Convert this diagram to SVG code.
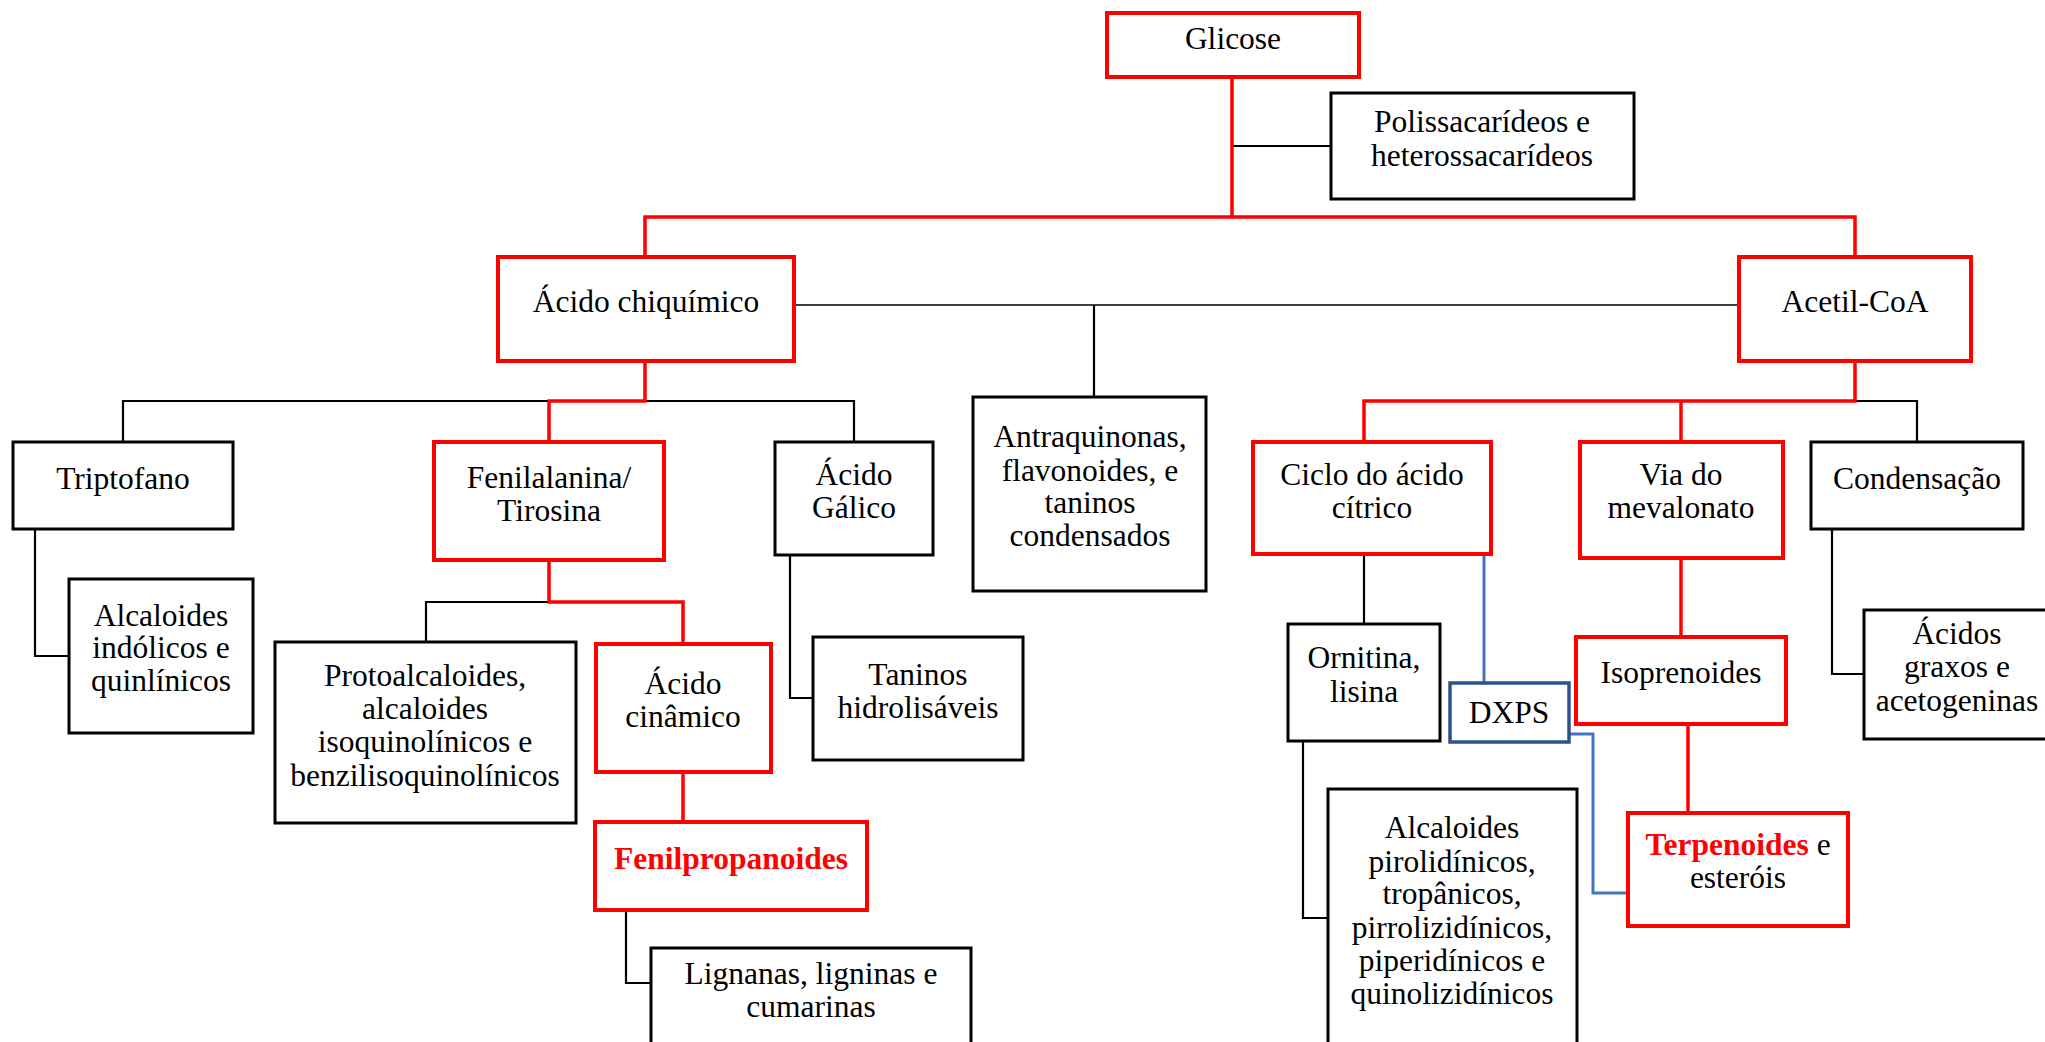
<svg xmlns="http://www.w3.org/2000/svg" width="2045" height="1042" viewBox="0 0 2045 1042">
<style>
text{font-family:"Liberation Serif","Times New Roman",serif;font-size:31.5px;fill:#000;text-anchor:middle}
.r rect{fill:#fff;stroke:#ff0000;stroke-width:4}
.k rect{fill:#fff;stroke:#000;stroke-width:3}
.b rect{fill:#fff;stroke:#2f528f;stroke-width:3.5}
.cr{fill:none;stroke:#ff0000;stroke-width:3.5}
.ck{fill:none;stroke:#000;stroke-width:2.2}
.ct{fill:none;stroke:#000;stroke-width:1.4}
.cb{fill:none;stroke:#4472c4;stroke-width:3}
.red{fill:#ff0000;font-weight:bold}
</style>
<rect width="2045" height="1042" fill="#fff"/>
<g id="connectors">
<path class="ck" d="M1232 146H1331"/>
<path class="ct" d="M794 305H1739"/>
<path class="ck" d="M1094 305V397"/>
<path class="ck" d="M123 442V401H854V442"/>
<path class="ck" d="M35 529V656H69"/>
<path class="ck" d="M426 642V602H549"/>
<path class="ck" d="M790 555V698H813"/>
<path class="ck" d="M626 910V983H651"/>
<path class="ck" d="M1855 401H1917V442"/>
<path class="ck" d="M1832 529V674H1864"/>
<path class="ck" d="M1364 554V624"/>
<path class="ck" d="M1303 741V918H1328"/>
<path class="cr" d="M1232 77V217"/>
<path class="cr" d="M645 257V217H1855V257"/>
<path class="cr" d="M645 361V401H549V442"/>
<path class="cr" d="M549 560V602H683V644"/>
<path class="cr" d="M683 772V822"/>
<path class="cr" d="M1855 361V401H1364V442"/>
<path class="cr" d="M1681 401V442"/>
<path class="cr" d="M1681 558V637"/>
<path class="cr" d="M1688 724V813"/>
<path class="cb" d="M1484 554V683"/>
<path class="cb" d="M1569 734H1593V893H1628"/>
</g>
<g id="glicose" class="r"><rect x="1107" y="13" width="252" height="64"/><text x="1233" y="49">Glicose</text></g>
<g id="polissacarideos" class="k"><rect x="1331" y="93" width="303" height="106"/><text x="1482" y="132">Polissacarídeos e</text><text x="1482" y="166">heterossacarídeos</text></g>
<g id="acido-chiquimico" class="r"><rect x="498" y="257" width="296" height="104"/><text x="646" y="312">Ácido chiquímico</text></g>
<g id="acetil-coa" class="r"><rect x="1739" y="257" width="232" height="104"/><text x="1855" y="312">Acetil-CoA</text></g>
<g id="triptofano" class="k"><rect x="13" y="442" width="220" height="87"/><text x="123" y="489">Triptofano</text></g>
<g id="fenilalanina" class="r"><rect x="434" y="442" width="230" height="118"/><text x="549" y="488">Fenilalanina/</text><text x="549" y="521">Tirosina</text></g>
<g id="acido-galico" class="k"><rect x="775" y="442" width="158" height="113"/><text x="854" y="485">Ácido</text><text x="854" y="518">Gálico</text></g>
<g id="antraquinonas" class="k"><rect x="973" y="397" width="233" height="194"/><text x="1090" y="447">Antraquinonas,</text><text x="1090" y="481">flavonoides, e</text><text x="1090" y="513">taninos</text><text x="1090" y="546">condensados</text></g>
<g id="ciclo" class="r"><rect x="1253" y="442" width="238" height="112"/><text x="1372" y="485">Ciclo do ácido</text><text x="1372" y="518">cítrico</text></g>
<g id="mevalonato" class="r"><rect x="1580" y="442" width="203" height="116"/><text x="1681" y="485">Via do</text><text x="1681" y="518">mevalonato</text></g>
<g id="condensacao" class="k"><rect x="1811" y="442" width="212" height="87"/><text x="1917" y="489">Condensação</text></g>
<g id="alcaloides-indolicos" class="k"><rect x="69" y="579" width="184" height="154"/><text x="161" y="626">Alcaloides</text><text x="161" y="658">indólicos e</text><text x="161" y="691">quinlínicos</text></g>
<g id="protoalcaloides" class="k"><rect x="275" y="642" width="301" height="181"/><text x="425" y="686">Protoalcaloides,</text><text x="425" y="719">alcaloides</text><text x="425" y="752">isoquinolínicos e</text><text x="425" y="786">benzilisoquinolínicos</text></g>
<g id="acido-cinamico" class="r"><rect x="596" y="644" width="175" height="128"/><text x="683" y="694">Ácido</text><text x="683" y="727">cinâmico</text></g>
<g id="taninos-hidrolisaveis" class="k"><rect x="813" y="637" width="210" height="123"/><text x="918" y="685">Taninos</text><text x="918" y="718">hidrolisáveis</text></g>
<g id="fenilpropanoides" class="r"><rect x="595" y="822" width="272" height="88"/><text x="731" y="869" class="red">Fenilpropanoides</text></g>
<g id="lignanas" class="k"><rect x="651" y="948" width="320" height="112"/><text x="811" y="984">Lignanas, ligninas e</text><text x="811" y="1017">cumarinas</text></g>
<g id="ornitina" class="k"><rect x="1288" y="624" width="152" height="117"/><text x="1364" y="668">Ornitina,</text><text x="1364" y="702">lisina</text></g>
<g id="dxps" class="b"><rect x="1450" y="683" width="119" height="59"/><text x="1509" y="723">DXPS</text></g>
<g id="isoprenoides" class="r"><rect x="1576" y="637" width="210" height="87"/><text x="1681" y="683">Isoprenoides</text></g>
<g id="terpenoides" class="r"><rect x="1628" y="813" width="220" height="113"/><text x="1738" y="855"><tspan class="red">Terpenoides</tspan> e</text><text x="1738" y="888">esteróis</text></g>
<g id="acidos-graxos" class="k"><rect x="1864" y="610" width="190" height="129"/><text x="1957" y="644">Ácidos</text><text x="1957" y="677">graxos e</text><text x="1957" y="711">acetogeninas</text></g>
<g id="alcaloides-pirolidinicos" class="k"><rect x="1328" y="789" width="249" height="271"/><text x="1452" y="838">Alcaloides</text><text x="1452" y="872">pirolidínicos,</text><text x="1452" y="904">tropânicos,</text><text x="1452" y="938">pirrolizidínicos,</text><text x="1452" y="971">piperidínicos e</text><text x="1452" y="1004">quinolizidínicos</text></g>
</svg>
